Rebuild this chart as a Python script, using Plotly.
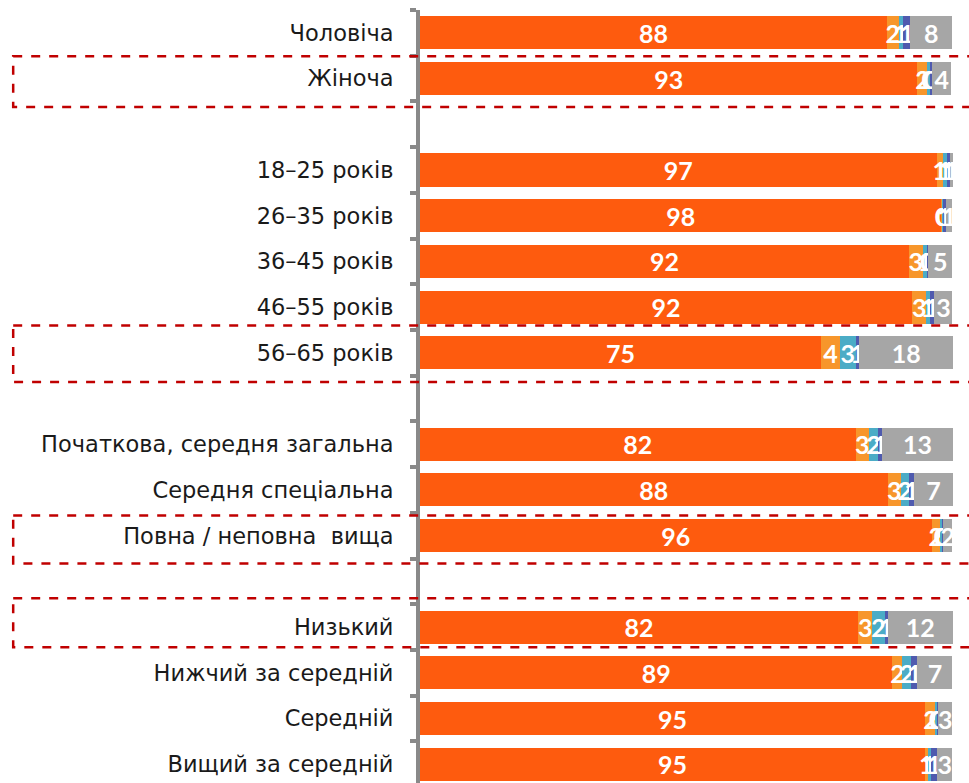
import plotly.graph_objects as go

categories = ["Чоловіча", "Жіноча", " ",
              "18–25 років", "26–35 років", "36–45 років", "46–55 років", "56–65 років", "  ",
              "Початкова, середня загальна", "Середня спеціальна", "Повна / неповна\u00a0 вища", "   ",
              "Низький", "Нижчий за середній", "Середній", "Вищий за середній"]

s1_orange = [87.7, 93.4, None, 97.0, 97.9, 91.8, 92.4, 75.3, None, 81.8, 87.8, 96.1, None, 82.3, 88.7, 94.8, 94.8]
s2_light = [2.2, 1.9, None, 1.2, 0.2, 2.6, 2.7, 3.6, None, 2.55, 2.55, 1.5, None, 2.6, 1.9, 2.1, 0.55]
s3_teal = [0.8, 0.45, None, 0.7, 0.2, 0.9, 0.6, 2.9, None, 1.7, 1.5, 0.45, None, 2.4, 1.7, 0.3, 0.65]
s4_blue = [1.4, 0.45, None, 0.6, 0.5, 0.1, 0.9, 0.7, None, 0.8, 0.9, 0.15, None, 0.55, 1.1, 0.1, 1.1]
s5_gray = [7.8, 3.6, None, 0.6, 1.2, 4.6, 3.4, 17.6, None, 13.2, 7.4, 1.8, None, 12.2, 6.6, 2.7, 2.9]

series = [s1_orange, s2_light, s3_teal, s4_blue, s5_gray]
colors = ["#FE5B0E", "#F7962B", "#4BACC6", "#4F5AAE", "#A6A6A6"]

# highlighted rows (dashed boxes): category index, extent above / below in row units
highlight_rows = [1, 7, 11, 13]
box_top = [0.49, 0.60, 0.44, 0.63]
box_bot = [0.62, 0.64, 0.61, 0.44]

fig = go.Figure()
for vals, col in zip(series, colors):
    fig.add_trace(go.Bar(
        y=categories, x=vals, orientation="h",
        marker=dict(color=col, line=dict(width=0)),
        texttemplate="%{x:.0f}", textposition="inside", insidetextanchor="middle",
        textangle=0, constraintext="none",
        textfont=dict(family="Lato", size=25, color="white", weight="bold"),
        hoverinfo="skip", showlegend=False,
    ))

for r, a, b in zip(highlight_rows, box_top, box_bot):
    fig.add_shape(type="rect", xref="paper", yref="y",
                  x0=-0.741, x1=1.2, y0=r - a, y1=r + b,
                  line=dict(color="#C00000", width=2.5, dash="dash"), layer="above")

fig.update_layout(
    barmode="stack", bargap=0.278,
    width=969, height=783,
    margin=dict(l=420, r=0, t=10, b=0),
    plot_bgcolor="white", paper_bgcolor="white",
    uniformtext=dict(minsize=25, mode="show"),
    xaxis=dict(range=[0, 103.1], visible=False, fixedrange=True),
    yaxis=dict(
        type="category", categoryorder="array", categoryarray=categories,
        range=[16.41, -0.5], showgrid=False, zeroline=False, fixedrange=True,
        showline=True, linewidth=4, linecolor="#898989",
        ticks="outside", tickson="boundaries", ticklen=6, tickwidth=4, tickcolor="#898989",
        ticklabelstandoff=18,
        tickfont=dict(family="DejaVu Sans", size=22.5, color="#1a1a1a"),
    ),
)

fig.write_html("out.html", config={"displayModeBar": False},
               post_script="document.body.style.margin='0';")
